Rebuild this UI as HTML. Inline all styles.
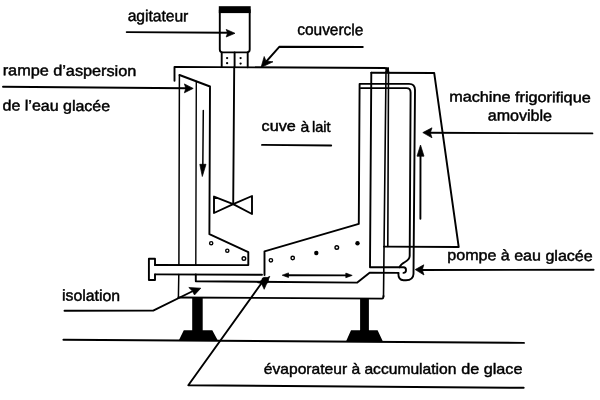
<!DOCTYPE html>
<html><head><meta charset="utf-8"><style>
html,body{margin:0;padding:0;background:#fff;}
body{width:600px;height:400px;overflow:hidden;}
svg{display:block;filter:grayscale(1);}
text{font-family:"Liberation Sans",sans-serif;fill:#000;}
</style></head><body>
<svg width="600" height="400" viewBox="0 0 600 400">
<g fill="none" stroke="#000" stroke-width="1.9" stroke-linejoin="round" stroke-linecap="round">
<!-- agitator motor -->
<path d="M219.8,10 L219.8,49.6 Q219.8,52.4 222.6,52.4 L246.9,52.4 Q249.7,52.4 249.7,49.6 L249.7,10"/>
<path d="M221.7,52.4 L221.7,66.9 M234.6,52.4 L234.6,67 M247.7,52.4 L247.7,67.2"/>
<!-- lid -->
<path d="M174.5,80.7 L174.5,66.9 L384.5,68 Q387.3,68.1 387.4,71.5"/>
<!-- agitator shaft -->
<path d="M234.2,67.5 L233.2,204.2"/>
<!-- blades -->
<path d="M233.2,204.2 L214,196.6 L214,213 Z M233.2,204.2 L252,196 L252,214 Z"/>
<!-- left wall -->
<path d="M178.4,297.5 L382,298.6 Q383.4,298.6 383.5,296"/>
<path stroke-width="1.6" d="M383.5,296.5 L386,71"/>
<path stroke-width="1.5" d="M179.4,75 L178.9,265 M178.8,274.4 L178.4,297.5"/>
<!-- rampe + left plate -->
<path d="M179.5,75 L210,86.5 L209.4,234.2 L248.3,252.2 L248.3,265.1 L155,265"/>
<path stroke-width="1.4" d="M196.3,81.5 L195.8,265"/>
<!-- flange -->
<path d="M155,265 L155,258.7 L148.9,258.8 L148.9,280 L155,280 L155,274.4"/>
<!-- tube bottom -->
<path d="M155,274.4 L262,274.8"/>
<path d="M195.8,274.4 L195.8,281.3 L357.3,282.6 L369.6,272.8 L398.5,272.9"/>
<!-- right plate + U-pipe outer -->
<path d="M264.5,275 L264.5,251.3 L358.8,223.9 L359.6,83.9 L409,83.9 Q415,83.9 415,90 L413.5,274 Q413.2,280.2 406,280.2 L403.5,280.2 Q398.3,280.2 398.3,273"/>
<path d="M360.8,88.1 L406.5,88.1 Q410.6,88.1 410.6,92.5 L409.7,256 Q409.5,259.5 405,262 Q400.5,264.5 399.5,267.3"/>
<!-- tube right -->
<path d="M371.3,72.7 L370,267.3 L403.5,267.3 Q406,267.3 406,270.1 Q406,272.9 403.5,272.9"/>
<!-- line B + machine -->
<path stroke-width="1.6" d="M388.5,71 L387.8,246.5"/>
<path d="M384,246.6 L458.7,247 L434.2,73 L371.3,72.7"/>
<!-- floor -->
<path d="M63.4,339.7 L524,342.9"/>
<!-- isolation leader -->
<path d="M64.5,310.8 L153.2,310.6 L192,291.5"/>
<!-- evaporator leader -->
<path d="M523.7,387.8 L188.3,385.3 L262,282.5"/>
<!-- agitateur leader -->
<path d="M126.7,32.1 L228,32.7"/>
<!-- couvercle leader -->
<path d="M362.8,47 L279.5,46.7 L264.5,63.5"/>
<!-- rampe leader -->
<path d="M3,86.8 L186,88.2"/>
<!-- cuve underline -->
<path d="M262,144.9 L331.2,145.5"/>
<!-- machine leader -->
<path d="M592.4,133.4 L429,132.8"/>
<!-- pompe leader -->
<path d="M593.6,269.8 L421,270"/>
<!-- down arrow -->
<path stroke-width="1.5" d="M203.3,110.5 L202.8,168"/>
<!-- up arrow -->
<path d="M420.4,218.7 L420.5,152"/>
<!-- double arrow -->
<path d="M286,275.2 L348,275.4"/>
</g>
<g fill="#000" stroke="none">
<rect x="218.8" y="6.2" width="31.9" height="6.9"/>
<rect x="385.6" y="67.3" width="3.4" height="4.6"/>
<circle cx="227.1" cy="58.1" r="1.15"/><circle cx="227.1" cy="63.2" r="1.15"/>
<circle cx="240.6" cy="58.1" r="1.15"/><circle cx="240.6" cy="63.6" r="1.15"/>
<!-- feet -->
<path d="M192.2,298 L202.7,298 L202.7,330.2 L212.3,330.2 L217.7,340.3 L179,340.1 L183.8,330.2 L192.2,330.2 Z"/>
<path d="M360.1,298.6 L368.9,298.6 L368.9,330.2 L377.6,330.2 L382.9,341.5 L346.1,341.3 L351,330.2 L360.1,330.2 Z"/>
<!-- filled circles -->
<circle cx="316.3" cy="253" r="2.2"/>
<circle cx="357.5" cy="243.3" r="2.2"/>
</g>
<g fill="#000" stroke="#000" stroke-width="0.7" stroke-linejoin="round">
<!-- arrowheads -->
<path d="M235,33.3 L226.2,29.4 L227.6,33 L226.2,37 Z"/>
<path d="M193.2,88.4 L184.4,83.9 L185.8,88.3 L184.4,92.8 Z"/>
<path d="M261,67.5 L264.2,56.5 L266,61 L273,61.8 Z"/>
<path d="M202.3,176.5 L199.8,164.3 L206,164.3 Z"/>
<path d="M420.5,145 L417,156.2 L424,156.2 Z"/>
<path d="M422.8,132.6 L432,127.8 L430.3,132.8 L432,137.8 Z"/>
<path d="M415.2,269.6 L423.8,264.8 L422.3,269.9 L424,275 Z"/>
<path d="M200.8,288.2 L188.8,287.5 L192.2,290.8 L194.5,295 Z"/>
<path d="M269.8,276.3 L257.3,282.6 L261.5,283.6 L264.2,289.3 Z"/><circle cx="265" cy="280.5" r="3.3"/>
<path d="M282.2,275.2 L288.5,272.9 L288.5,277.5 Z"/>
<path d="M352.2,275.4 L345.8,273.1 L345.8,277.7 Z"/>
</g>
<g fill="none" stroke="#000" stroke-width="1.4">
<circle cx="211.2" cy="243.2" r="1.6"/>
<circle cx="227.3" cy="250.7" r="1.6"/>
<circle cx="243.9" cy="258.6" r="1.8"/>
<circle cx="270.9" cy="260.3" r="1.7"/>
<circle cx="292.7" cy="258" r="1.7"/>
<circle cx="336.8" cy="247.5" r="1.8"/>
</g>
<g stroke="#000" stroke-width="0.45">
<text x="127.7" y="21.1" transform="rotate(0.4 127.7 21.1)" font-size="16" textLength="60.6" lengthAdjust="spacingAndGlyphs">agitateur</text>
<text x="297.3" y="34.8" transform="rotate(0.4 297.3 34.8)" font-size="16" textLength="66" lengthAdjust="spacingAndGlyphs">couvercle</text>
<text x="2.7" y="75.2" transform="rotate(0.4 2.7 75.2)" font-size="15" textLength="133.6" lengthAdjust="spacingAndGlyphs">rampe d’aspersion</text>
<text x="2.6" y="110.4" transform="rotate(0.4 2.6 110.4)" font-size="15" textLength="107.5" lengthAdjust="spacingAndGlyphs">de l’eau glacée</text>
<text x="261.6" y="131.3" font-size="14.5" textLength="34.2" lengthAdjust="spacingAndGlyphs">cuve</text>
<text x="300.4" y="131.5" font-size="14.5" textLength="8.8" lengthAdjust="spacingAndGlyphs">à</text>
<text x="312" y="131.6" font-size="14.5" textLength="18.6" lengthAdjust="spacingAndGlyphs">lait</text>
<text x="449.2" y="101.5" transform="rotate(0.4 449.2 101.5)" font-size="14.5" textLength="141.5" lengthAdjust="spacingAndGlyphs">machine frigorifique</text>
<text x="487.8" y="120.5" transform="rotate(0.4 487.8 120.5)" font-size="15.5" textLength="64.2" lengthAdjust="spacingAndGlyphs">amovible</text>
<text x="447.3" y="260" transform="rotate(0.4 447.3 260)" font-size="15" textLength="145.4" lengthAdjust="spacingAndGlyphs">pompe à eau glacée</text>
<text x="62" y="300.6" transform="rotate(0.4 62 300.6)" font-size="15.5" textLength="58" lengthAdjust="spacingAndGlyphs">isolation</text>
<text x="263.8" y="374" font-size="15" textLength="192.6" lengthAdjust="spacingAndGlyphs">évaporateur à accumulation</text>
<text x="461.2" y="374.2" font-size="15" textLength="61.3" lengthAdjust="spacingAndGlyphs">de glace</text>
</g>
</svg>
</body></html>
